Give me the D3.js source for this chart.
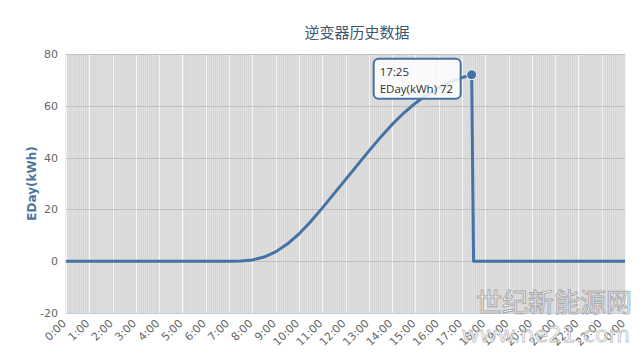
<!DOCTYPE html>
<meta charset="utf-8">
<style>
  body { margin: 0; background: #fff; }
  svg { display: block; font-family: "DejaVu Sans", Verdana, sans-serif; }
  .tick-label { font-size: 11px; fill: #666; }
  .title { font-family: "Noto Sans CJK SC", sans-serif; font-size: 15px; fill: #3E576F; text-anchor: middle; }
  .ytitle { font-size: 12px; font-weight: bold; fill: #4d759e; text-anchor: middle; }
  .tip text { font-size: 11.5px; fill: #333; font-family: "Open Sans", sans-serif; }
</style>
<body>
<svg width="640" height="354"></svg>
<script src="https://d3js.org/d3.v7.min.js"></script>
<script>

// sample times (minutes after midnight) and daily energy in kWh
var times = [0, 420, 450, 480, 510, 540, 570, 600, 630, 660, 690, 720, 750, 780, 810, 840,
             870, 900, 930, 960, 990, 1020, 1045, 1050, 1440];
var eday = [0, 0, 0.1, 0.5, 1.6, 3.6, 6.6, 10.5, 15.2, 20.5, 26, 31.5, 37, 42.5, 47.8, 52.8,
            57.2, 61, 64.3, 67, 69.2, 70.9, 72, 0, 0];
var hourLabels = ["0:00","1:00","2:00","3:00","4:00","5:00","6:00","7:00","8:00","9:00","10:00",
                  "11:00","12:00","13:00","14:00","15:00","16:00","17:00","18:00","19:00","20:00",
                  "21:00","22:00","23:00","0:00"];
var yTicks = [-20, 0, 20, 40, 60, 80];

var svg = d3.select("svg");

var x = d3.scaleLinear().domain([0, 1440]).range([66, 625]);
var y = d3.scaleLinear().domain([-20, 80]).range([313, 54]);

// plot background + dense vertical grid (one line per 5 min sample)
svg.append("rect")
    .attr("x", x(0)).attr("y", y(80))
    .attr("width", x(1440) - x(0)).attr("height", y(-20) - y(80))
    .attr("fill", "#e2e2e2");

svg.append("g")
  .selectAll("line")
  .data(d3.range(0, 1441, 5))
  .enter().append("line")
    .attr("x1", d => x(d)).attr("x2", d => x(d))
    .attr("y1", y(80)).attr("y2", y(-20))
    .attr("stroke", "#d4d4d4")
    .attr("stroke-width", 1);

// hour separators show lighter
svg.append("g")
  .selectAll("line")
  .data(d3.range(0, 1441, 60))
  .enter().append("line")
    .attr("x1", d => Math.round(x(d)) + 0.5).attr("x2", d => Math.round(x(d)) + 0.5)
    .attr("y1", y(80)).attr("y2", y(-20))
    .attr("stroke", "#f6f6f6")
    .attr("stroke-width", 1);

// horizontal grid
svg.append("g")
  .selectAll("line")
  .data(yTicks)
  .enter().append("line")
    .attr("x1", x(0)).attr("x2", x(1440))
    .attr("y1", d => Math.round(y(d)) + 0.5).attr("y2", d => Math.round(y(d)) + 0.5)
    .attr("stroke", d => d == -20 ? "#C0D0E0" : "#c0c0c0");

// y labels
svg.append("g")
  .selectAll("text")
  .data(yTicks)
  .enter().append("text")
    .attr("class", "tick-label")
    .attr("x", 58).attr("y", d => y(d) + 4)
    .attr("text-anchor", "end")
    .text(d => d);

// x labels
svg.append("g")
  .selectAll("text")
  .data(hourLabels)
  .enter().append("text")
    .attr("class", "tick-label")
    .attr("text-anchor", "end")
    .attr("transform", (d, i) => "translate(" + (x(i * 60) + 1) + ",324) rotate(-45)")
    .text(d => d);

// titles
svg.append("text").attr("class", "title").attr("x", 357).attr("y", 38).text("逆变器历史数据");
svg.append("text").attr("class", "ytitle")
    .attr("transform", "translate(36," + y(30) + ") rotate(-90)")
    .text("EDay(kWh)");

// line
var data = times.map((t, i) => ({t: t, v: eday[i]}));
var line = d3.line().x(d => x(d.t)).y(d => y(d.v));
svg.append("path")
    .datum(data)
    .attr("fill", "none")
    .attr("stroke", "#4572A7")
    .attr("stroke-width", 3)
    .attr("stroke-linejoin", "round")
    .attr("d", line);

// hovered point + tooltip
var hp = data[22];
var px = x(hp.t), py = y(hp.v);
svg.append("circle")
    .attr("cx", px).attr("cy", py).attr("r", 5)
    .attr("fill", "#4572A7").attr("stroke", "#fff").attr("stroke-width", 1);

var tip = svg.append("g").attr("class", "tip")
    .attr("transform", "translate(" + (px - 98) + "," + (py - 16) + ")");
tip.append("rect")
    .attr("width", 87).attr("height", 40).attr("rx", 5)
    .attr("fill", "rgba(255,255,255,0.85)")
    .attr("stroke", "#4572A7").attr("stroke-width", 2);
tip.append("text").attr("x", 6).attr("y", 17).text("17:25");
tip.append("text").attr("x", 6).attr("y", 34).text("EDay(kWh) " + hp.v);

// site watermark
var wm = svg.append("g").attr("opacity", 0.75);
wm.append("text")
    .attr("x", 632).attr("y", 312).attr("text-anchor", "end")
    .style("font-family", "'Noto Sans CJK SC', sans-serif").style("font-size", "26px")
    .attr("fill", "#fff").attr("stroke", "#999").attr("stroke-width", 1)
    .text("世纪新能源网");
wm.append("text")
    .attr("x", 630).attr("y", 342).attr("text-anchor", "end")
    .style("font-size", "22px")
    .attr("fill", "#fff").attr("stroke", "#aaa").attr("stroke-width", 0.8)
    .text("www.ne21.com");

</script>
</body>
